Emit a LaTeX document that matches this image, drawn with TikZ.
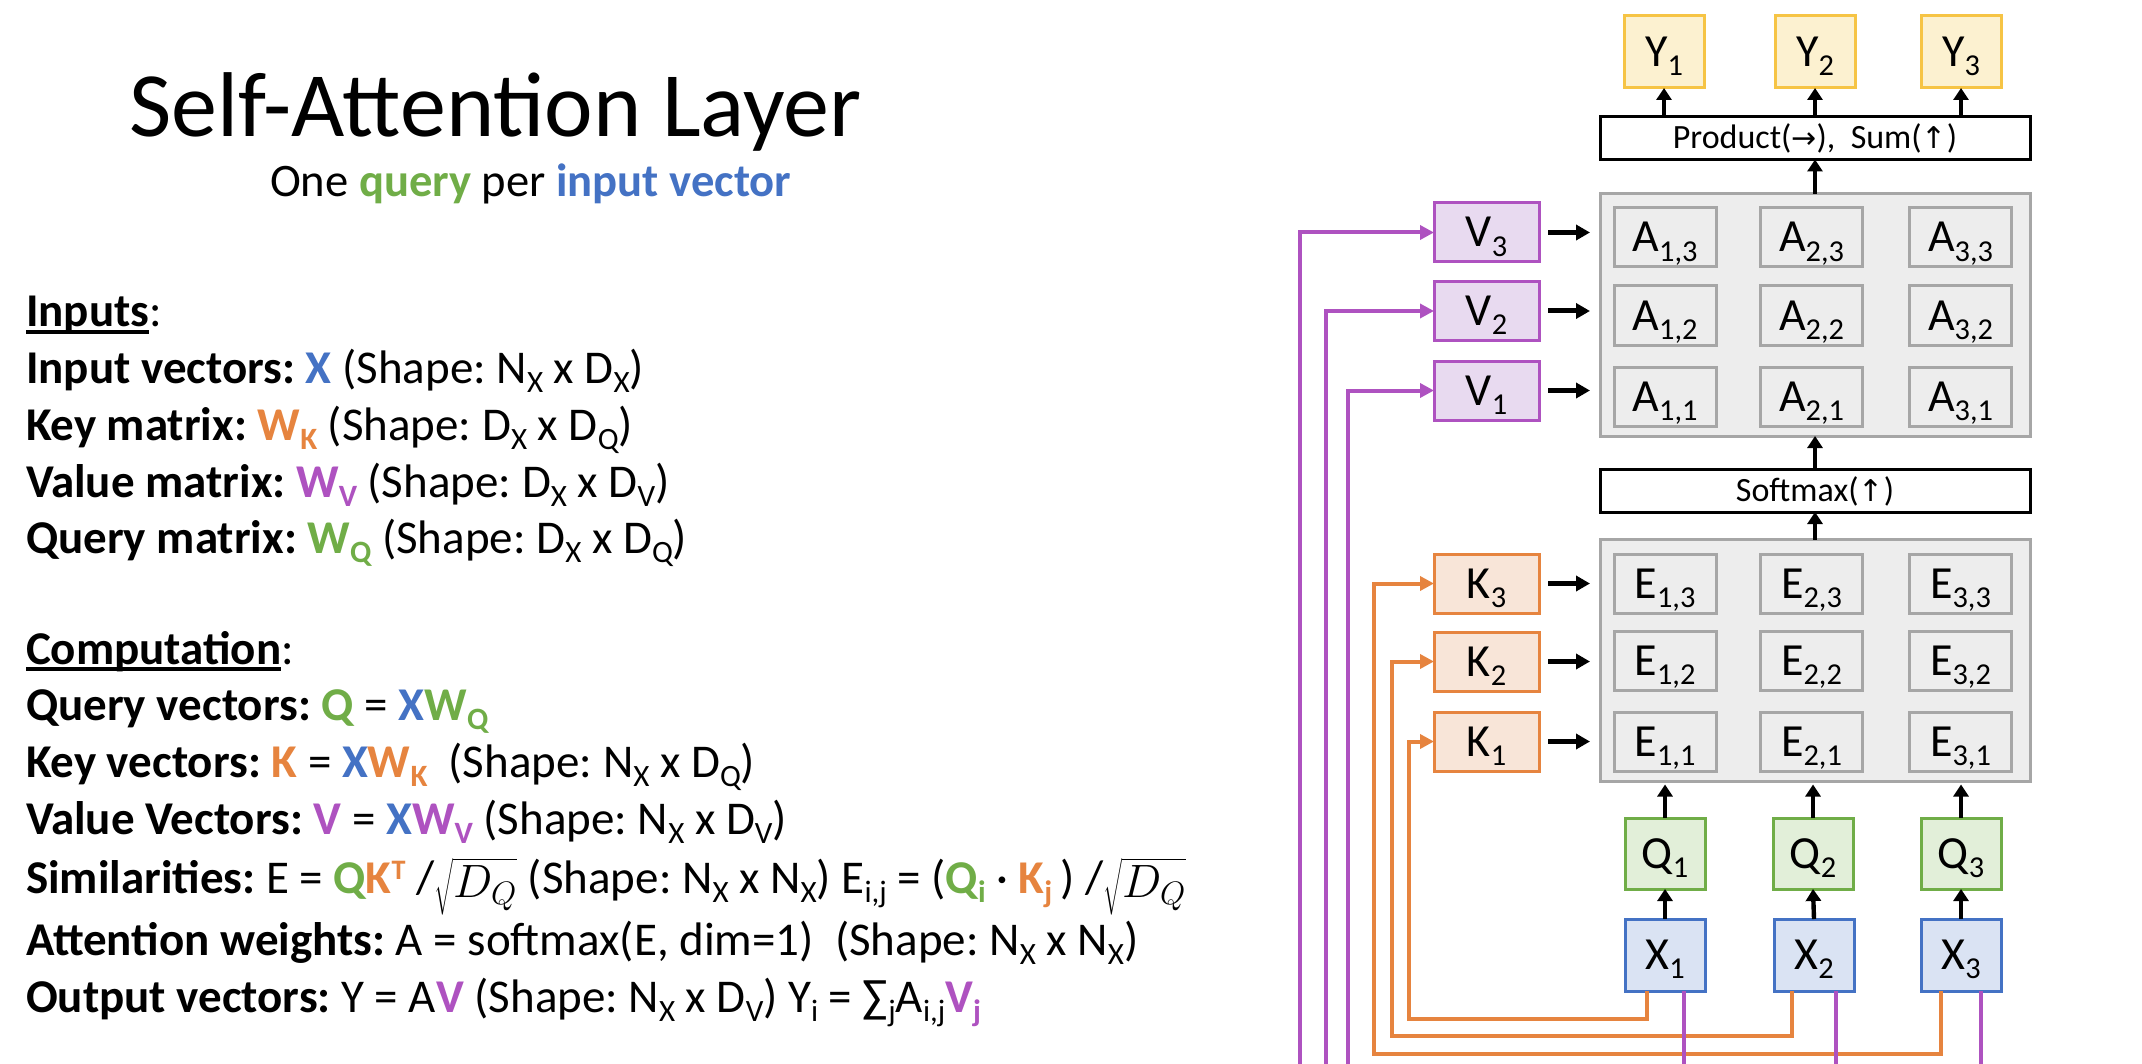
\documentclass[tikz,border=0pt]{standalone}
\usepackage{fontspec}
\setmainfont{Carlito}
\newfontfamily\symf{DejaVu Sans}
\usetikzlibrary{arrows.meta}
\definecolor{cblue}{HTML}{4472C4}
\definecolor{cbluef}{HTML}{DAE3F3}
\definecolor{corange}{HTML}{E6843F}
\definecolor{corangef}{HTML}{F8E5D8}
\definecolor{cgreen}{HTML}{70AD47}
\definecolor{cgreenf}{HTML}{E2EFD9}
\definecolor{cpurple}{HTML}{AE52C0}
\definecolor{cpurplef}{HTML}{E8DAF0}
\definecolor{cyellowd}{HTML}{F6C445}
\definecolor{cyellow}{HTML}{FCF1D0}
\definecolor{cgray}{HTML}{A6A6A6}
\definecolor{cgrayf}{HTML}{EDEDED}
\frenchspacing
\newcommand\sbs[1]{\raisebox{-0.2em}{\scalebox{0.66}{#1}}}
\newcommand\sps[1]{\raisebox{0.28em}{\scalebox{0.6}{#1}}}
\newcommand\sqd{\smash{\raisebox{-2pt}{\scalebox{0.94}{$\sqrt{D_Q}$}}}}
\newsavebox\ulbox
\newcommand\ulx[1]{\sbox\ulbox{#1}\rlap{\rule[-3.5pt]{\wd\ulbox}{2pt}}\usebox\ulbox}
\newcommand\cb[2]{\textbf{\color{#1}#2}}
\begin{document}
\begin{tikzpicture}[x=0.5pt,y=-0.5pt,
  every node/.style={inner sep=0pt,outer sep=0pt},
  lbl/.style={anchor=base west,font=\fontsize{23.5}{27}\selectfont},
  box/.style={draw,line width=1.5pt,font=\fontsize{23}{23}\selectfont,text height=14.5pt,text depth=0pt},
  ybox/.style={box,draw=cyellowd,fill=cyellow,minimum width=40pt,minimum height=36pt},
  qbox/.style={box,draw=cgreen,fill=cgreenf,minimum width=40pt,minimum height=35.5pt},
  xbox/.style={box,draw=cblue,fill=cbluef,minimum width=40pt,minimum height=36pt},
  vbox/.style={box,draw=cpurple,fill=cpurplef,minimum width=52.5pt,minimum height=29.5pt},
  kbox/.style={box,draw=corange,fill=corangef,minimum width=52.5pt,minimum height=29.5pt},
  grid/.style={draw=cgray,fill=cgrayf,line width=1.5pt,minimum width=215pt,minimum height=121pt},
  cell/.style={box,draw=cgray,minimum width=51pt,minimum height=29.5pt},
  opbox/.style={draw,line width=1.5pt,fill=white,minimum width=215pt,minimum height=21.5pt,font=\fontsize{17}{17}\selectfont,text height=10.7pt,text depth=0pt},
  arr/.style={line width=2.2pt,-{Triangle[length=6pt,width=7.5pt]}},
  harr/.style={line width=2.5pt,-{Triangle[length=7pt,width=7.5pt]}},
  oline/.style={draw=corange,line width=2pt,-{Triangle[length=7pt,width=7pt]}},
  pline/.style={draw=cpurple,line width=2pt},
  pend/.style={pline,-{Triangle[length=7pt,width=7pt]}}]
\useasboundingbox[fill=white] (0,0) rectangle (2142,1064);

% ---------- left text ----------
\node[anchor=base west,font=\fontsize{46}{50}\selectfont] (title) at (129,137) {Self-Attention Layer};
\node[anchor=base west,font=\fontsize{23.3}{27}\selectfont] (subt) at (270,197) {One \cb{cgreen}{query} per \cb{cblue}{input vector}};

\node[lbl] (l0) at (26,327) {\ulx{\textbf{Inputs}}:};
\node[lbl] (l1) at (26,383) {\textbf{Input vectors:} \cb{cblue}{X} (Shape: N\sbs{X} x D\sbs{X})};
\node[lbl] (l2) at (26,440) {\textbf{Key matrix:} \cb{corange}{W\sbs{K}} (Shape: D\sbs{X} x D\sbs{Q})};
\node[lbl] (l3) at (26,497) {\textbf{Value matrix:} \cb{cpurple}{W\sbs{V}} (Shape: D\sbs{X} x D\sbs{V})};
\node[lbl] (l4) at (26,553) {\textbf{Query matrix:} \cb{cgreen}{W\sbs{Q}} (Shape: D\sbs{X} x D\sbs{Q})};

\node[lbl] (c0) at (26,664) {\ulx{\textbf{Computation}}:};
\node[lbl] (c1) at (26,720) {\textbf{Query vectors:} \cb{cgreen}{Q} = \cb{cblue}{X}\cb{cgreen}{W\sbs{Q}}};
\node[lbl] (c2) at (26,777) {\textbf{Key vectors:} \cb{corange}{K} = \cb{cblue}{X}\cb{corange}{W\sbs{K}}\ \ (Shape: N\sbs{X} x D\sbs{Q})};
\node[lbl] (c3) at (26,834) {\textbf{Value Vectors:} \cb{cpurple}{V} = \cb{cblue}{X}\cb{cpurple}{W\sbs{V}} (Shape: N\sbs{X} x D\sbs{V})};
\node[lbl] (c4) at (26,893) {\textbf{Similarities:} E = \cb{cgreen}{Q}\cb{corange}{K\sps{T}} /\sqd{} (Shape: N\sbs{X} x N\sbs{X}) E\sbs{i,j} = (\cb{cgreen}{Q\sbs{i}} · \cb{corange}{K\sbs{j}}\,) /\sqd};
\node[lbl] (c5) at (26,955) {\textbf{Attention weights:} A = softmax(E, dim=1)\ \ (Shape: N\sbs{X} x N\sbs{X})};
\node[lbl] (c6) at (26,1012) {\textbf{Output vectors:} Y = A\cb{cpurple}{V} (Shape: N\sbs{X} x D\sbs{V}) Y\sbs{i} = ∑\sbs{j}A\sbs{i,j}\cb{cpurple}{V\sbs{j}}};

% ---------- diagram ----------
\node[ybox] (Y1) at (1664,52) {Y\sbs{1}};
\node[ybox] (Y2) at (1815,52) {Y\sbs{2}};
\node[ybox] (Y3) at (1961,52) {Y\sbs{3}};
\node[opbox] (P) at (1815,138) {Product({\symf\fontsize{15}{15}\selectfont →}),\ \ Sum({\symf\fontsize{15}{15}\selectfont ↑})};

\node[grid] (AG) at (1815,315) {};
\node[cell] (A13) at (1665,237.5) {A\sbs{1,3}};
\node[cell] (A23) at (1811.5,237.5) {A\sbs{2,3}};
\node[cell] (A33) at (1960.5,237.5) {A\sbs{3,3}};
\node[cell] (A12) at (1665,315.5) {A\sbs{1,2}};
\node[cell] (A22) at (1811.5,315.5) {A\sbs{2,2}};
\node[cell] (A32) at (1960.5,315.5) {A\sbs{3,2}};
\node[cell] (A11) at (1665,396.5) {A\sbs{1,1}};
\node[cell] (A21) at (1811.5,396.5) {A\sbs{2,1}};
\node[cell] (A31) at (1960.5,396.5) {A\sbs{3,1}};

\node[opbox] (SM) at (1815,490.5) {Softmax({\symf\fontsize{15}{15}\selectfont ↑})};

\node[grid] (EG) at (1815,660.5) {};
\node[cell] (E13) at (1665,583.5) {E\sbs{1,3}};
\node[cell] (E23) at (1811.5,583.5) {E\sbs{2,3}};
\node[cell] (E33) at (1960.5,583.5) {E\sbs{3,3}};
\node[cell] (E12) at (1665,660.5) {E\sbs{1,2}};
\node[cell] (E22) at (1811.5,660.5) {E\sbs{2,2}};
\node[cell] (E32) at (1960.5,660.5) {E\sbs{3,2}};
\node[cell] (E11) at (1665,741.5) {E\sbs{1,1}};
\node[cell] (E21) at (1811.5,741.5) {E\sbs{2,1}};
\node[cell] (E31) at (1960.5,741.5) {E\sbs{3,1}};

\node[qbox] (Q1) at (1665,853.5) {Q\sbs{1}};
\node[qbox] (Q2) at (1813,853.5) {Q\sbs{2}};
\node[qbox] (Q3) at (1961,853.5) {Q\sbs{3}};
\node[xbox] (X1) at (1665,955) {X\sbs{1}};
\node[xbox] (X2) at (1814,955) {X\sbs{2}};
\node[xbox] (X3) at (1961,955) {X\sbs{3}};

\node[vbox] (V3) at (1486.5,232.5) {V\sbs{3}};
\node[vbox] (V2) at (1486.5,311) {V\sbs{2}};
\node[vbox] (V1) at (1486.5,390.5) {V\sbs{1}};
\node[kbox] (K3) at (1486.5,583.5) {K\sbs{3}};
\node[kbox] (K2) at (1486.5,661.5) {K\sbs{2}};
\node[kbox] (K1) at (1486.5,741.5) {K\sbs{1}};

% black arrows
\foreach \n in {1,2,3}{
  \draw[arr] (Y\n.south |- P.north) -- (Y\n.south);
  \draw[arr] (X\n.north) -- (Q\n.south);
  \draw[arr,shorten >=1.5pt] (Q\n.north) -- (Q\n.north |- EG.south);
  \draw[harr,shorten <=4.5pt,shorten >=5pt] (V\n.east) -- (V\n.east -| AG.west);
  \draw[harr,shorten <=4.5pt,shorten >=5pt] (K\n.east) -- (K\n.east -| EG.west);
}
\draw[arr] (AG.north) -- (P.south);
\draw[arr] (SM.north) -- (AG.south);
\draw[arr] (EG.north) -- (SM.south);

% orange key routes
\coordinate (ok1) at (1409,1019);
\coordinate (ok2) at (1392,1036);
\coordinate (ok3) at (1374,1054);
\draw[oline] ([xshift=-9pt]X1.south) |- (ok1) |- (K1.west);
\draw[oline] ([xshift=-11pt]X2.south) |- (ok2) |- (K2.west);
\draw[oline] ([xshift=-10pt]X3.south) |- (ok3) |- (K3.west);

% purple value routes (cut off at bottom)
\coordinate (px1) at (1684,1064);
\coordinate (px2) at (1836,1064);
\coordinate (px3) at (1981,1064);
\coordinate (pv1) at (1348,1064);
\coordinate (pv2) at (1326,1064);
\coordinate (pv3) at (1300,1064);
\draw[pline] ([xshift=9.5pt]X1.south) -- (px1);
\draw[pline] ([xshift=11pt]X2.south) -- (px2);
\draw[pline] ([xshift=10pt]X3.south) -- (px3);
\draw[pend] (pv1) |- (V1.west);
\draw[pend] (pv2) |- (V2.west);
\draw[pend] (pv3) |- (V3.west);
\end{tikzpicture}
\end{document}
